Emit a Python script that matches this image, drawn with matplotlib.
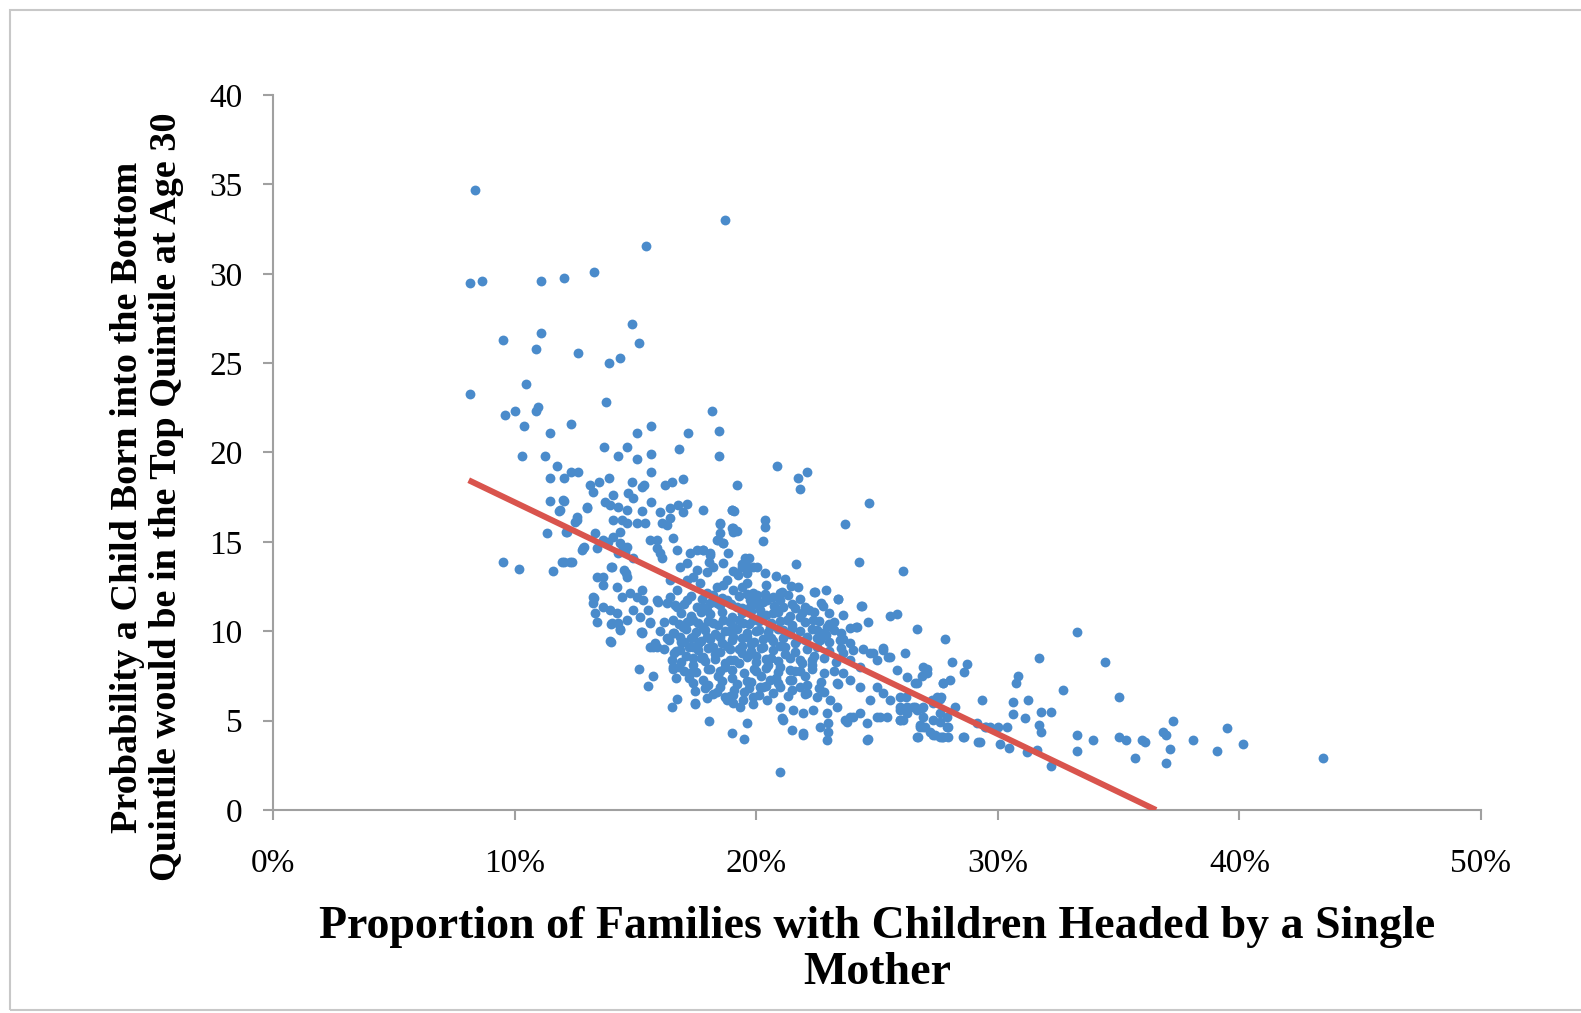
import numpy as np
import matplotlib
matplotlib.use("Agg")
import matplotlib.pyplot as plt
from matplotlib.ticker import PercentFormatter
from matplotlib.patches import Rectangle

# share of single-mother families (%) vs. chance of reaching top quintile (%)
# grouped by region of the cloud
high_x = [8.36, 18.72, 15.44, 8.15, 8.65, 11.08, 12.04, 13.29, 14.85, 15.15, 9.53, 11.08, 10.89, 12.62,
          13.89, 14.38, 10.48, 8.15, 13.78, 18.16, 9.62, 10.03, 10.89, 10.98, 10.39, 11.47, 12.33, 15.63,
          15.05, 17.18, 18.45, 18.45, 16.79, 15.63, 15.05, 14.28, 14.67, 13.69, 10.31, 11.27, 11.76, 20.86,
          21.72, 22.11, 21.83]
high_y = [34.7, 33.0, 31.56, 29.47, 29.6, 29.6, 29.75, 30.1, 27.2, 26.1, 26.3, 26.7, 25.8, 25.55,
          25.0, 25.3, 23.85, 23.3, 22.8, 22.3, 22.1, 22.3, 22.3, 22.55, 21.5, 21.1, 21.6, 21.5,
          21.1, 21.1, 21.2, 19.8, 20.2, 19.9, 19.65, 19.8, 20.3, 20.3, 19.8, 19.8, 19.25, 19.25,
          18.6, 18.9, 17.95]

upper_x = [11.47, 12.04, 12.33, 12.62, 15.63, 13.12, 13.5, 13.89, 14.86, 15.34, 16.21, 16.5, 16.98, 19.19,
           24.65, 23.66, 17.78, 18.98, 19.09, 18.52, 19.0, 19.22, 20.38, 20.38, 20.28, 18.43, 18.64, 18.85,
           17.78, 18.09, 18.06, 21.63, 24.25, 26.09, 19.69, 19.4, 19.88, 19.05, 19.26, 19.6, 20.38,
           13.26, 14.09, 13.74, 13.95, 14.29, 14.7, 14.91, 15.26, 15.63, 12.02, 13.0, 14.64, 15.26,
           16.02, 16.43, 16.78, 17.12, 16.98, 12.57, 12.16, 11.88, 14.09, 14.43, 14.64, 15.05, 15.4, 14.36,
           16.09, 16.43, 16.3, 18.5, 19.05, 18.99, 13.67, 13.4, 12.84, 11.95, 12.29, 14.36, 14.64, 14.29,
           14.57, 14.91, 15.6, 15.88, 15.88, 16.02, 16.09, 16.57, 16.71, 17.26, 17.54, 17.81, 18.09, 18.37,
           18.64, 18.5, 19.05, 19.54, 19.4, 19.19, 19.67, 20.02, 18.64, 18.23, 17.95, 17.54, 17.4, 17.12,
           16.85, 11.47, 12.04, 11.85, 13.01, 12.57, 12.5, 11.35, 12.13, 12.87, 12.78, 9.51, 10.2, 11.58,
           12.04, 12.36, 13.33, 13.88, 14.09, 14.5, 13.98, 13.4, 14.62, 14.54]
upper_y = [18.6, 18.6, 18.9, 18.9, 18.9, 18.2, 18.35, 18.6, 18.35, 18.2, 18.2, 18.35, 18.5, 18.2,
           17.15, 16.0, 16.8, 16.8, 16.7, 16.0, 15.75, 15.6, 16.25, 15.85, 15.05, 15.1, 14.95, 14.4,
           14.55, 14.4, 13.9, 13.75, 13.9, 13.35, 14.1, 13.75, 13.6, 13.35, 13.15, 13.25, 13.25,
           17.81, 17.63, 17.25, 17.07, 16.97, 17.72, 17.43, 18.09, 17.25, 17.35, 16.88, 16.79, 16.75,
           16.69, 16.88, 17.07, 17.11, 16.69, 16.23, 15.57, 16.79, 16.23, 16.23, 16.04, 16.04, 16.04, 15.57,
           16.04, 16.32, 15.95, 16.04, 15.76, 16.79, 15.11, 14.64, 14.64, 13.9, 13.9, 14.92, 14.73, 14.36,
           14.45, 14.08, 15.11, 15.11, 14.64, 14.36, 14.08, 15.2, 14.55, 14.36, 14.55, 14.55, 14.27, 15.11,
           14.92, 15.48, 15.57, 14.08, 13.62, 13.25, 13.62, 13.62, 13.81, 13.62, 13.34, 13.43, 13.06, 13.81,
           13.62, 17.31, 17.31, 16.75, 16.93, 16.41, 16.13, 15.48, 15.57, 14.7, 14.55, 13.9, 13.5, 13.39,
           13.9, 13.9, 15.48, 15.01, 15.29, 14.73, 13.62, 13.01, 13.25, 13.43]

core_x = [22.4, 22.89, 21.46, 21.74, 18.64, 21.81, 23.37, 22.78, 24.34, 19.4, 19.6, 19.95, 20.36, 21.05,
          20.99, 25.54, 25.81, 22.43, 23.4, 24.64, 24.15, 26.67, 27.82, 26.16, 20.02, 20.43, 20.16,
          19.74, 20.98, 21.12, 21.26, 21.81, 22.36, 22.5, 22.92, 22.09, 22.64, 21.67, 21.12, 20.57,
          13.26, 13.26, 13.33, 13.4, 13.67, 13.67, 14.02, 14.23, 14.43, 14.64, 14.78, 15.05, 15.26, 15.33,
          14.91, 15.19, 15.53, 15.6, 15.26, 15.95, 16.43, 13.95, 14.23, 14.29, 14.64, 14.02,
          16.43, 16.71, 17.12, 17.67, 17.95, 18.37, 18.78, 19.05, 19.61, 19.88, 16.71, 17.12, 17.54, 17.95,
          18.37, 18.78, 19.19, 19.61, 20.02, 16.57, 16.98, 17.4, 17.81, 18.23, 18.64, 19.05, 19.47, 19.88,
          16.85, 17.4, 17.95, 18.5, 19.05, 19.61, 13.3, 13.67, 13.98, 14.36, 13.98, 15.23, 15.6, 15.88,
          16.3, 16.64, 17.12, 16.57, 13.95, 14.36, 15.26, 16.3, 24.36, 24.16, 20.2, 20.7, 21.5, 20.0,
          20.6, 21.0, 20.3, 19.8, 19.3, 18.8, 18.2, 17.6, 17.0, 18.9, 20.4, 21.2, 20.8, 23.0, 22.2,
          23.6, 23.9, 23.2, 22.7, 21.6, 22.9, 23.5]
core_y = [12.2, 12.3, 12.55, 12.45, 12.6, 11.8, 11.8, 11.4, 11.4, 12.5, 12.1, 12.0, 12.1, 12.2,
          11.75, 10.85, 10.95, 12.22, 11.78, 10.53, 10.21, 10.1, 9.58, 8.8, 12.03, 11.75, 11.19,
          11.38, 12.12, 11.38, 10.63, 10.82, 10.63, 10.07, 10.26, 9.7, 9.51, 9.51, 10.07, 10.26,
          11.94, 11.57, 11.01, 10.54, 13.06, 12.59, 13.62, 12.5, 11.94, 13.06, 12.13, 11.94, 12.31, 11.75,
          11.19, 10.82, 11.19, 10.54, 9.98, 11.66, 11.94, 11.19, 11.01, 10.45, 10.63, 10.45,
          12.87, 12.31, 12.87, 12.69, 12.13, 12.5, 12.87, 12.31, 12.69, 12.13, 11.38, 11.75, 11.38, 11.19,
          11.57, 11.75, 11.38, 11.19, 11.57, 10.63, 10.26, 10.63, 10.26, 10.45, 10.63, 10.26, 10.45, 10.63,
          9.7, 9.7, 9.7, 9.7, 9.7, 9.7, 11.84, 11.38, 10.41, 10.11, 9.42, 9.94, 10.45, 11.75,
          11.57, 11.47, 10.54, 9.89, 9.46, 10.07, 9.92, 9.61, 11.42, 10.22, 10.9, 11.0, 10.2, 10.0,
          9.6, 9.2, 9.1, 9.3, 9.0, 9.2, 9.1, 9.3, 9.4, 10.0, 12.6, 12.9, 13.1, 11.0, 11.2,
          10.9, 10.2, 10.5, 11.6, 11.3, 9.8, 9.9]

# the solid blob in the middle, estimated row by row
dense_x = [17.3, 17.75, 18.2, 18.6, 19.3, 19.75, 20.7, 21.3,
           17.0, 17.8, 18.1, 18.5, 18.95, 19.4, 19.9, 20.3, 20.75, 21.5, 22.0,
           16.9, 17.3, 17.7, 18.1, 18.6, 19.0, 19.4, 19.8, 20.4, 20.9, 21.4, 21.9, 22.4,
           16.2, 16.8, 17.2, 17.6, 18.0, 18.4, 18.9, 19.3, 19.7, 20.1, 20.6, 21.0, 21.5, 22.0, 22.6, 23.0,
           16.0, 16.6, 17.1, 17.5, 17.9, 18.3, 18.7, 19.2, 19.6, 20.1, 20.5, 20.9, 21.4, 21.8, 22.3, 22.7, 23.2,
           16.4, 16.9, 17.3, 17.7, 18.1, 18.6, 19.0, 19.4, 19.9, 20.3, 20.7, 21.1, 21.6, 22.0, 22.5, 23.0, 23.6,
           16.2, 16.7, 17.2, 17.6, 18.0, 18.5, 18.9, 19.4, 19.8, 20.2, 20.7, 21.2, 21.6, 22.1, 22.5, 23.0, 23.5,
           24.4,
           16.5, 16.9, 17.4, 17.9, 18.3, 18.7, 19.1, 19.6, 20.0, 20.4, 20.9, 21.4, 21.9, 22.3, 22.8, 23.3,
           17.0, 17.5, 18.0, 18.5, 19.0, 19.5, 20.0, 20.4, 20.9, 21.4, 21.8, 22.3, 22.8, 23.2,
           17.4, 18.0, 18.6, 19.2, 19.8, 20.4, 20.9, 21.5, 22.1, 22.7, 23.4,
           18.2, 18.9, 19.5, 20.1, 20.7, 21.3, 22.0, 22.8]
dense_y = [11.95, 11.8, 12.05, 11.85, 12.0, 11.75, 11.9, 12.05,
           11.5, 11.35, 11.6, 11.45, 11.55, 11.3, 11.5, 11.65, 11.4, 11.55, 11.35,
           11.0, 10.85, 11.1, 10.95, 11.05, 10.8, 11.0, 11.15, 10.9, 11.05, 10.85, 11.0, 11.1,
           10.5, 10.4, 10.6, 10.45, 10.55, 10.35, 10.5, 10.65, 10.4, 10.55, 10.45, 10.6, 10.35, 10.5, 10.6, 10.4,
           10.0, 9.9, 10.1, 9.95, 10.05, 9.85, 10.0, 10.15, 9.9, 10.05, 9.95, 10.1, 9.85, 10.0, 10.1, 9.9, 10.05,
           9.5, 9.4, 9.6, 9.45, 9.55, 9.35, 9.5, 9.65, 9.4, 9.55, 9.45, 9.6, 9.35, 9.5, 9.6, 9.4, 9.55,
           9.0, 8.9, 9.1, 8.95, 9.05, 8.85, 9.0, 9.15, 8.9, 9.05, 8.95, 9.1, 8.85, 9.0, 9.1, 8.9, 9.05,
           9.0,
           8.4, 8.3, 8.5, 8.35, 8.45, 8.25, 8.4, 8.55, 8.3, 8.45, 8.35, 8.5, 8.25, 8.4, 8.5, 8.3,
           7.8, 7.7, 7.9, 7.75, 7.85, 7.65, 7.8, 7.95, 7.7, 7.85, 7.75, 7.9, 7.65, 7.8,
           7.1, 7.0, 7.2, 7.05, 7.15, 6.95, 7.1, 7.25, 7.0, 7.15, 7.05,
           6.5, 6.4, 6.6, 6.45, 6.55, 6.35, 6.5, 6.6]

lower_x = [17.1, 17.7, 18.3, 18.9, 19.4, 20.0, 20.6, 21.2, 21.8, 22.4,
           16.8, 17.4, 18.1, 18.7, 19.3, 19.9, 20.5, 21.0, 21.6, 22.3,
           17.2, 17.8, 18.4, 19.0, 19.6, 20.2, 20.8, 21.4, 22.0,
           17.9, 18.5, 19.1, 19.7, 20.3, 21.5, 22.6,
           23.47, 23.88, 24.02, 23.6, 23.88, 24.3, 24.71, 24.99, 25.26, 25.54, 25.82, 26.23, 26.64, 26.92,
           27.06, 27.74, 27.47, 26.92, 26.23, 25.95, 25.54, 25.26, 24.99, 24.71, 24.3, 23.88, 23.6, 23.33,
           23.05, 22.5, 22.09, 21.81, 21.4, 20.98, 20.57, 20.16, 19.88, 20.43, 20.98, 21.54, 21.95, 22.36,
           22.92, 23.33, 23.88, 23.75, 24.3, 24.57, 24.99, 25.4, 25.95, 26.23, 26.64, 26.92, 27.33, 27.61,
           27.89, 21.12, 21.95, 21.47, 22.92, 22.99, 24.57, 26.64, 26.92, 27.4, 27.74, 20.98,
           15.6, 15.88, 15.81, 16.6, 15.14, 15.74, 15.53, 16.57, 16.68, 17.26, 17.47, 16.71, 16.5, 17.47,
           17.95, 18.36, 18.71, 19.05, 19.47, 19.33, 19.88, 18.06, 19.61, 19.01, 19.5,
           16.85, 17.4, 17.81, 15.74, 16.57, 17.47, 18.78, 19.05,
           24.85, 25.24, 25.47, 27.61, 27.33, 26.5, 25.95, 26.09, 26.78, 27.19, 27.61, 27.88, 28.57,
           29.19, 29.68, 21.05, 21.92, 24.64, 23.68, 24.02, 25.12, 22.64, 22.99]
lower_y = [8.6, 8.5, 8.7, 8.4, 8.8, 8.6, 8.5, 8.7, 8.4, 8.6,
           8.0, 8.1, 7.9, 8.0, 8.2, 7.9, 8.1, 8.0, 7.8, 8.1,
           7.4, 7.3, 7.5, 7.4, 7.2, 7.5, 7.4, 7.3, 7.5,
           6.8, 6.9, 6.7, 6.8, 6.9, 6.7, 6.8,
           9.51, 9.33, 8.95, 8.77, 8.39, 8.02, 8.77, 8.39, 8.95, 8.58, 7.83, 7.46, 7.09, 8.02,
           7.65, 7.09, 6.34, 5.78, 5.78, 6.34, 6.16, 6.53, 6.9, 6.16, 6.9, 7.27, 7.65, 7.09,
           6.16, 6.34, 6.53, 6.9, 7.27, 6.9, 7.27, 6.9, 6.34, 6.16, 5.78, 5.6, 5.41, 5.6,
           5.41, 5.78, 5.22, 4.94, 5.41, 4.85, 5.22, 5.22, 5.04, 5.41, 5.6, 5.22, 5.04, 4.94,
           5.22, 5.04, 4.29, 4.48, 3.92, 4.85, 3.92, 4.1, 4.66, 4.2, 4.1, 2.14,
           9.14, 9.14, 9.33, 8.8, 7.87, 7.5, 6.94, 7.87, 7.37, 7.65, 6.68, 6.19, 5.78, 5.93,
           6.25, 6.62, 6.34, 6.44, 6.16, 5.78, 5.93, 5.0, 4.89, 4.33, 3.96,
           8.95, 9.14, 8.58, 9.14, 8.02, 5.97, 6.16, 5.97,
           8.8, 9.05, 8.58, 6.23, 5.97, 5.78, 5.6, 5.04, 4.66, 4.38, 4.1, 4.66, 4.1,
           3.82, 4.66, 5.12, 4.2, 3.96, 5.04, 5.22, 5.22, 4.66, 4.38]

tail_x = [28.12, 28.71, 28.61, 27.06, 26.85, 26.57, 27.75, 28.02, 26.2, 25.95, 26.16, 26.57, 26.85,
          27.26, 27.64, 27.61, 28.23, 25.95, 26.78, 26.99, 26.71, 27.33, 27.68, 27.95, 27.95, 28.61,
          29.12, 29.53, 33.27, 31.71, 34.43, 30.85, 30.74, 32.68, 29.33, 30.64, 31.24, 35.0, 30.64,
          31.14, 31.8, 32.2, 37.24, 39.47, 29.47, 30.02, 30.37, 31.71, 31.8, 33.27, 33.95, 35.0, 35.31,
          35.98, 36.08, 36.82, 36.95, 38.1, 40.15, 29.26, 30.09, 30.46, 31.2, 31.61, 32.2, 33.27,
          35.69, 37.14, 36.95, 39.07, 43.45]
tail_y = [8.28, 8.15, 7.74, 7.87, 7.5, 7.12, 7.12, 7.27, 6.34, 5.78, 5.69, 5.74, 5.69,
          6.18, 6.34, 5.4, 5.78, 5.04, 4.76, 4.66, 4.1, 4.2, 4.1, 4.66, 4.1, 4.1,
          4.85, 4.66, 9.97, 8.52, 8.26, 7.5, 7.09, 6.69, 6.18, 6.04, 6.18, 6.3, 5.38,
          5.12, 5.51, 5.51, 5.0, 4.61, 4.66, 4.62, 4.62, 4.76, 4.38, 4.21, 3.94, 4.08, 3.94,
          3.94, 3.8, 4.35, 4.21, 3.94, 3.69, 3.82, 3.72, 3.48, 3.26, 3.36, 2.48, 3.3,
          2.89, 3.41, 2.65, 3.3, 2.89]

# fitted trend line ends
fit_x = [8.1, 36.55]
fit_y = [18.45, 0.0]

x_vals = high_x + upper_x + core_x + dense_x + lower_x + tail_x
y_vals = high_y + upper_y + core_y + dense_y + lower_y + tail_y

plt.rcParams['font.family'] = ['Liberation Serif', 'DejaVu Serif']

W, H = 1581, 1013
fig = plt.figure(figsize=(W / 100, H / 100), dpi=100)
fig.patches.append(Rectangle((10 / W, 1 - 1010 / H), 1.0, 1000 / H, transform=fig.transFigure,
                             fill=False, edgecolor='#c8c8c8', linewidth=1.5))

ax = fig.add_axes([273 / W, 1 - 810 / H, (1481 - 273) / W, (810 - 95) / H])
ax.scatter(x_vals, y_vals, s=50, color='#4A8BCB', linewidths=0, zorder=2)
ax.plot(fit_x, fit_y, color='#D9544D', linewidth=4.3, solid_capstyle='butt', zorder=3)

ax.set_xlim(0, 50)
ax.set_ylim(0, 40)
ax.set_xticks(np.arange(0, 51, 10))
ax.set_yticks(np.arange(0, 41, 5))
ax.xaxis.set_major_formatter(PercentFormatter(xmax=100, decimals=0))

for side in ['top', 'right']:
    ax.spines[side].set_visible(False)
for side in ['left', 'bottom']:
    ax.spines[side].set_color('#a0a0a0')
    ax.spines[side].set_linewidth(1.5)
ax.tick_params(axis='both', colors='#a0a0a0', length=7, width=1.5, labelsize=24, labelcolor='black')
ax.tick_params(axis='y', pad=15)
ax.tick_params(axis='x', pad=21)

fig.text(877 / W, 1 - 950 / H, 'Proportion of Families with Children Headed by a Single\nMother',
         ha='center', va='center', fontsize=33, fontweight='bold', linespacing=1.1)
fig.text(147 / W, 1 - 497 / H,
         'Probability a Child Born into the Bottom\nQuintile would be in the Top Quintile at Age 30',
         ha='center', va='center', rotation=90, fontsize=27.5, fontweight='bold', linespacing=1.15)

fig.savefig('out.png', dpi=100)
